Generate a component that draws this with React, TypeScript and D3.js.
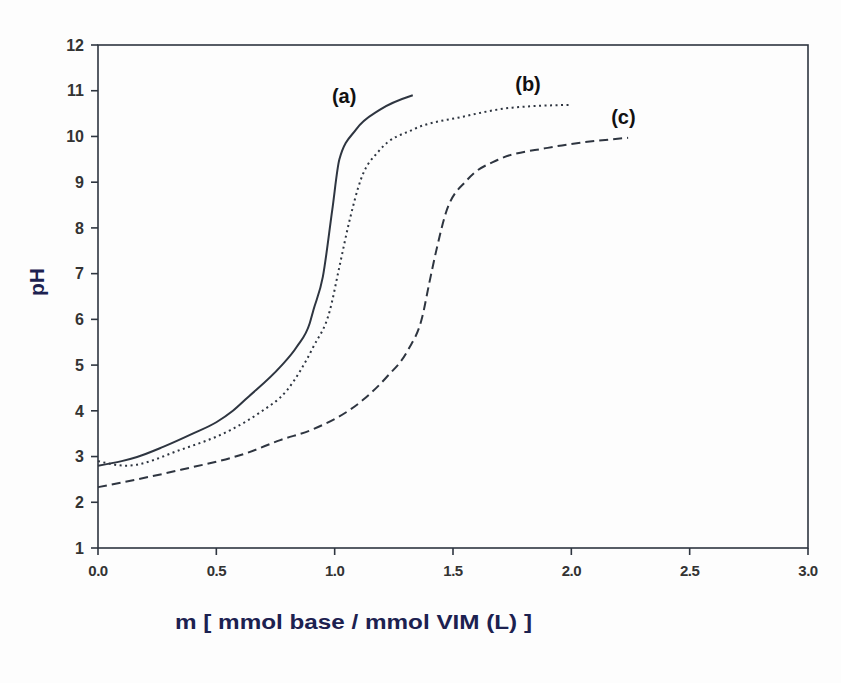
import { useEffect, useRef } from 'react';
import * as d3 from 'd3';

// curve (a) solid
const aX = [0, 0.1, 0.165, 0.275, 0.4, 0.5, 0.57, 0.63, 0.77, 0.84, 0.895, 0.91, 0.95, 0.99, 1.02, 1.09, 1.19, 1.33];
const aY = [2.8, 2.9, 2.99, 3.21, 3.5, 3.75, 4.0, 4.28, 4.96, 5.4, 5.92, 6.2, 6.93, 8.4, 9.5, 10.15, 10.58, 10.9];
// curve (b) dotted
const bX = [0, 0.12, 0.35, 0.56, 0.68, 0.8, 0.91, 0.98, 1.02, 1.06, 1.11, 1.19, 1.33, 1.54, 1.75, 1.99];
const bY = [2.9, 2.8, 3.15, 3.58, 3.95, 4.46, 5.4, 6.2, 7.15, 8.1, 9.05, 9.7, 10.15, 10.43, 10.63, 10.69];
// curve (c) dashed
const cX = [0, 0.35, 0.63, 0.77, 0.91, 1.12, 1.22, 1.31, 1.37, 1.4, 1.43, 1.47, 1.56, 1.69, 1.9, 2.24];
const cY = [2.33, 2.71, 3.08, 3.36, 3.6, 4.24, 4.74, 5.33, 6.05, 6.8, 7.52, 8.33, 9.05, 9.49, 9.75, 9.97];

const curveLabels = ['(a)', '(b)', '(c)'];
const labelPos = [[1.04, 10.73], [1.817, 11.0], [2.22, 10.27]];

const xTicks = [0, 0.5, 1.0, 1.5, 2.0, 2.5, 3.0];
const yTicks = [1, 2, 3, 4, 5, 6, 7, 8, 9, 10, 11, 12];

export default function App() {
  const ref = useRef<SVGSVGElement>(null);

  useEffect(() => {
    if (!ref.current) return;
    const svg = d3.select(ref.current);
    svg.selectAll('*').remove();

    const x = d3.scaleLinear().domain([0, 3]).range([98, 808]);
    const y = d3.scaleLinear().domain([1, 12]).range([548, 45]);
    const ink = '#2e3540';
    const font = 'Liberation Sans, Arial, sans-serif';

    svg.append('rect').attr('width', 841).attr('height', 683).attr('fill', '#fdfdfd');

    // frame
    svg.append('rect')
      .attr('x', x(0)).attr('y', y(12))
      .attr('width', x(3) - x(0)).attr('height', y(1) - y(12))
      .attr('fill', 'none').attr('stroke', ink).attr('stroke-width', 1.6);

    // x ticks
    const xg = svg.append('g');
    xTicks.forEach(t => {
      xg.append('line').attr('x1', x(t)).attr('x2', x(t)).attr('y1', y(1)).attr('y2', y(1) + 7)
        .attr('stroke', ink).attr('stroke-width', 1.6);
      xg.append('text').attr('x', x(t)).attr('y', y(1) + 28)
        .attr('text-anchor', 'middle').attr('font-family', font).attr('font-weight', 'bold')
        .attr('font-size', 15).attr('letter-spacing', -0.5).attr('fill', '#333')
        .text(d3.format('.1f')(t));
    });

    // y ticks
    const yg = svg.append('g');
    yTicks.forEach(t => {
      yg.append('line').attr('x1', x(0) - 7).attr('x2', x(0)).attr('y1', y(t)).attr('y2', y(t))
        .attr('stroke', ink).attr('stroke-width', 1.6);
      yg.append('text').attr('x', x(0) - 14).attr('y', y(t)).attr('dy', '0.36em')
        .attr('text-anchor', 'end').attr('font-family', font).attr('font-weight', 'bold')
        .attr('font-size', 16).attr('fill', '#333')
        .text(t);
    });

    const series = [
      { xs: aX, ys: aY, dash: null, w: 2 },
      { xs: bX, ys: bY, dash: '2,3.5', w: 2 },
      { xs: cX, ys: cY, dash: '9,5', w: 2 },
    ];
    series.forEach(s => {
      const pts = s.xs.map((v, i) => [x(v), y(s.ys[i])] as [number, number]);
      svg.append('path')
        .attr('d', d3.line().curve(d3.curveMonotoneX)(pts) as string)
        .attr('fill', 'none').attr('stroke', ink).attr('stroke-width', s.w)
        .attr('stroke-dasharray', s.dash);
    });

    curveLabels.forEach((l, i) => {
      svg.append('text').attr('x', x(labelPos[i][0])).attr('y', y(labelPos[i][1]))
        .attr('text-anchor', 'middle').attr('font-family', font).attr('font-weight', 'bold')
        .attr('font-size', 20).attr('fill', '#111')
        .text(l);
    });

    // axis titles
    svg.append('text').attr('transform', 'translate(44,282) rotate(-90)')
      .attr('text-anchor', 'middle').attr('font-family', font).attr('font-weight', 'bold')
      .attr('font-size', 21).attr('fill', '#1c2150').text('pH');

    svg.append('text').attr('x', 175).attr('y', 629)
      .attr('font-family', font).attr('font-weight', 'bold')
      .attr('font-size', 20).attr('fill', '#1c2150')
      .attr('textLength', 357).attr('lengthAdjust', 'spacingAndGlyphs')
      .text('m [ mmol base / mmol VIM (L) ]');
  }, []);

  return (
    <div style={{ position: 'absolute', left: 0, top: 0 }}>
      <svg ref={ref} width={841} height={683} />
    </div>
  );
}
